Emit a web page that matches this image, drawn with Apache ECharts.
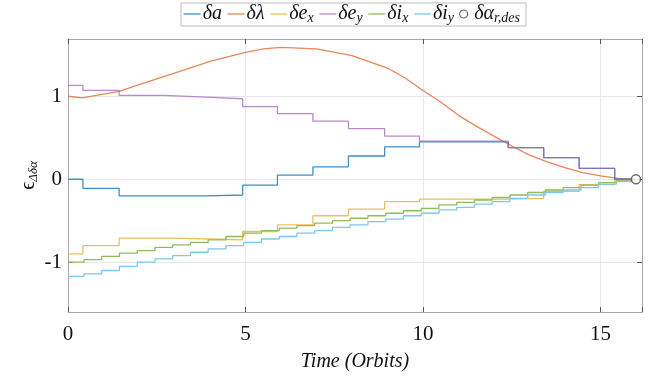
<!DOCTYPE html>
<html><head><meta charset="utf-8">
<script src="https://cdn.jsdelivr.net/npm/echarts@6/dist/echarts.min.js"></script>
<style>html,body{margin:0;padding:0;background:#fff}#c{width:660px;height:377px}</style>
</head><body><div id="c"></div>
<script>
// ---- data (time in orbits, value) ----
const names = ['δa', 'δλ', 'δe_x', 'δe_y', 'δi_x', 'δi_y', 'δα_r,des'];
const xTicks = [0, 5, 10, 15];
const yTicks = [-1, 0, 1];

const dA = [[0,0.0],[0.42,-0.11],[1.44,-0.20],[3.9,-0.19],[4.92,-0.07],[5.9,0.05],[6.9,0.15],[7.9,0.28],[8.92,0.39],[9.9,0.45],[12.4,0.38],[13.4,0.26],[14.4,0.13],[15.4,0.0],[16,0.0]];
const dLambda = [[0,1.0],[0.4,0.98],[1.44,1.06],[2,1.14],[3,1.28],[4,1.42],[5,1.53],[5.5,1.57],[6,1.59],[7,1.57],[8,1.49],[9,1.34],[9.5,1.22],[10,1.07],[10.5,0.93],[11,0.77],[11.5,0.64],[12,0.52],[12.5,0.40],[13,0.29],[13.5,0.21],[14,0.14],[14.5,0.08],[15,0.04],[15.5,0.01],[16,0.0]];
const dEx = [[0,-0.90],[0.42,-0.80],[1.44,-0.71],[3.0,-0.72],[4.0,-0.73],[4.92,-0.63],[5.9,-0.55],[6.9,-0.44],[7.9,-0.36],[8.92,-0.27],[9.9,-0.24],[12.4,-0.23],[13.4,-0.145],[14.4,-0.065],[15.4,-0.01],[16,0.0]];
const dEy = [[0,1.13],[0.42,1.07],[1.44,1.01],[2.7,0.99],[3.9,0.97],[4.92,0.875],[5.9,0.79],[6.9,0.70],[7.9,0.61],[8.92,0.52],[9.9,0.46],[12.4,0.38],[13.4,0.26],[14.4,0.13],[15.4,0.0],[16,0.0]];
const dIx = [[0,-1.00],[0.45,-0.97],[0.95,-0.93],[1.45,-0.89],[1.95,-0.86],[2.45,-0.82],[2.95,-0.79],[3.45,-0.76],[3.95,-0.73],[4.45,-0.69],[4.95,-0.65],[5.45,-0.62],[5.95,-0.59],[6.45,-0.56],[6.95,-0.53],[7.45,-0.50],[7.95,-0.47],[8.45,-0.44],[8.95,-0.41],[9.45,-0.38],[9.95,-0.35],[10.45,-0.31],[10.95,-0.28],[11.45,-0.25],[11.95,-0.22],[12.45,-0.19],[12.95,-0.16],[13.45,-0.13],[13.95,-0.10],[14.45,-0.07],[14.95,-0.04],[15.45,-0.01],[16,0.0]];
const dIy = [[0,-1.17],[0.45,-1.14],[0.95,-1.10],[1.45,-1.05],[1.95,-1.00],[2.45,-0.96],[2.95,-0.92],[3.45,-0.88],[3.95,-0.84],[4.45,-0.80],[4.95,-0.76],[5.45,-0.72],[5.95,-0.69],[6.45,-0.65],[6.95,-0.62],[7.45,-0.58],[7.95,-0.55],[8.45,-0.51],[8.95,-0.48],[9.45,-0.44],[9.95,-0.41],[10.45,-0.37],[10.95,-0.34],[11.45,-0.30],[11.95,-0.27],[12.45,-0.23],[12.95,-0.19],[13.45,-0.16],[13.95,-0.13],[14.45,-0.10],[14.95,-0.06],[15.45,-0.03],[16,0.0]];
const dDes = [[16,0]];

const colors = ['#3f8fca', '#e8855a', '#e9c15a', '#a064bb', '#8fbd5c', '#7cc8ee', '#444444'];
const serif = "'Liberation Serif','DejaVu Serif',serif";

function lineSeries(i, data, stepped, extra) {
  return Object.assign({
    name: names[i], type: 'line', data: data, step: stepped ? 'end' : false,
    symbol: 'none', color: colors[i], lineStyle: {width: 1.3, color: colors[i]},
    emphasis: {disabled: true}, animation: false
  }, extra || {});
}

const legendData = names.map(function (n, i) {
  if (i < 6) return {name: n, itemStyle: {opacity: 0}, lineStyle: {color: colors[i], width: 1.3}};
  return {name: n, icon: 'circle', itemStyle: {color: '#fff', borderColor: '#444', borderWidth: 1.2}};
});

const chart = echarts.init(document.getElementById('c'));
const axisCommon = {
  axisLine: {show: true, onZero: false, lineStyle: {color: '#a8a8a8', width: 1}},
  axisTick: {show: true, inside: true, length: 5, lineStyle: {color: '#555'}}
};
chart.setOption({
  animation: false,
  backgroundColor: '#fff',
  grid: {left: 68, right: 18, top: 39, bottom: 63},
  legend: {
    top: 3, left: 181, data: legendData,
    backgroundColor: '#fff', borderColor: '#bbbbbb', borderWidth: 1,
    padding: [1, 6, 1, 2], itemGap: 5, itemWidth: 17, itemHeight: 8,
    formatter: function (n) {
      const k = n.indexOf('_');
      if (k < 0) return '{m|' + n + '}';
      return '{m|' + n.slice(0, k) + '}{s|' + n.slice(k + 1) + '}';
    },
    textStyle: {
      padding: [0, 0, 0, -3],
      rich: {
        m: {fontFamily: serif, fontStyle: 'italic', fontSize: 20, lineHeight: 22, color: '#111'},
        s: {fontFamily: serif, fontStyle: 'italic', fontSize: 14, lineHeight: 13, verticalAlign: 'bottom', color: '#111'}
      }
    }
  },
  xAxis: [
    Object.assign({
      type: 'value', min: 0, max: 16.17, interval: 5, position: 'bottom',
      name: 'Time (Orbits)', nameLocation: 'middle', nameGap: 40,
      nameTextStyle: {fontFamily: serif, fontStyle: 'italic', fontSize: 20, color: '#111'},
      axisLabel: {fontFamily: serif, fontSize: 21, color: '#111', margin: 12,
        customValues: xTicks, formatter: v => (xTicks.indexOf(v) >= 0 ? String(v) : '')},
      splitLine: {show: true, lineStyle: {color: '#e8e8e8', width: 1}}
    }, axisCommon),
    Object.assign({
      type: 'value', min: 0, max: 16.17, interval: 5, position: 'top',
      axisLabel: {show: false}, splitLine: {show: false}
    }, axisCommon)
  ],
  yAxis: [
    Object.assign({}, axisCommon, {
      type: 'value', min: -1.6, max: 1.69, position: 'left',
      name: '{e|ϵ}{s|Δδα}', nameLocation: 'middle', nameGap: 28, nameRotate: 90,
      nameMoveOverlap: false,
      nameTextStyle: {rich: {
        e: {fontFamily: serif, fontSize: 20, lineHeight: 22, color: '#111'},
        s: {fontFamily: serif, fontStyle: 'italic', fontSize: 13, lineHeight: 13, verticalAlign: 'bottom', color: '#111'}
      }},
      axisTick: {show: true, inside: true, length: 5, lineStyle: {color: '#555'}, customValues: yTicks},
      axisLabel: {fontFamily: serif, fontSize: 21, color: '#111', margin: 6, customValues: yTicks},
      splitLine: {show: true, lineStyle: {color: '#e8e8e8', width: 1}}
    }),
    Object.assign({}, axisCommon, {
      type: 'value', min: -1.6, max: 1.69, position: 'right',
      axisTick: {show: true, inside: true, length: 5, lineStyle: {color: '#555'}, customValues: yTicks},
      axisLabel: {show: false}, splitLine: {show: false}
    })
  ],
  series: [
    lineSeries(0, dA, true, {z: 3}),
    lineSeries(1, dLambda, false, {z: 2}),
    lineSeries(2, dEx, true, {z: 2}),
    lineSeries(3, dEy, true, {z: 4, lineStyle: {width: 1.3, color: colors[3], opacity: 0.75}}),
    lineSeries(4, dIx, true, {z: 2}),
    lineSeries(5, dIy, true, {z: 2}),
    {name: names[6], type: 'scatter', data: dDes, symbol: 'circle', symbolSize: 9,
     itemStyle: {color: '#fff', borderColor: '#444', borderWidth: 1.3}, z: 5, silent: true}
  ]
});
</script>
</body></html>
